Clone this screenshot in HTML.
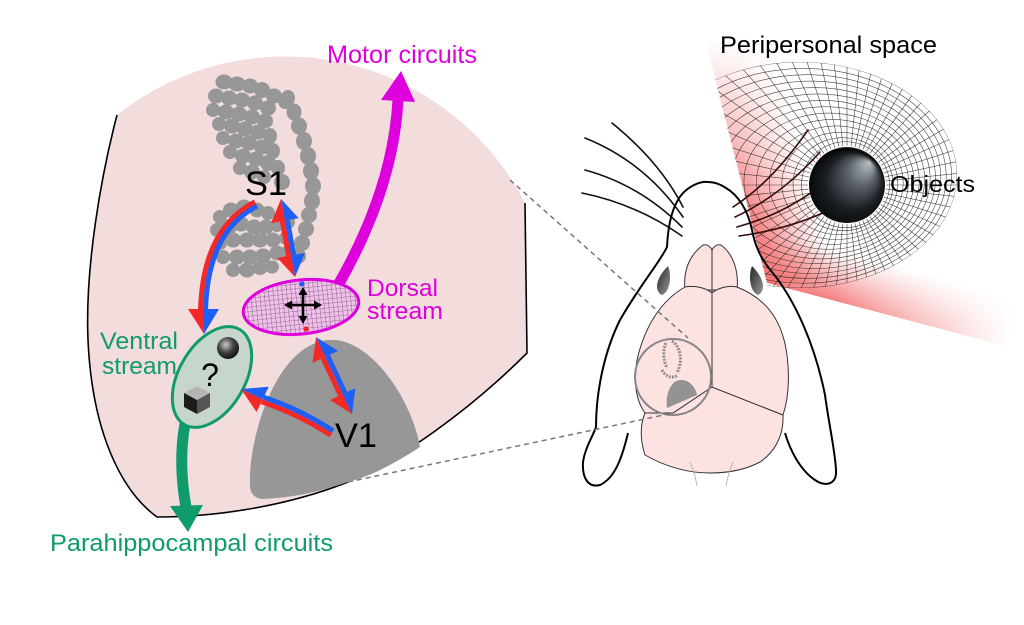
<!DOCTYPE html>
<html><head><meta charset="utf-8"><style>
html,body{margin:0;padding:0;background:#fff;}
svg{display:block;}
text{font-family:"Liberation Sans",Arial,sans-serif;}
</style></head><body>
<svg width="1024" height="625" viewBox="0 0 1024 625" xmlns="http://www.w3.org/2000/svg">
<defs>
  <pattern id="dgrid" width="4.5" height="4.5" patternUnits="userSpaceOnUse">
    <rect width="4.5" height="4.5" fill="#f0c0ea"/>
    <path d="M0,0H4.5M0,0V4.5" stroke="#4a2a48" stroke-width="0.6"/>
  </pattern>
  <linearGradient id="lband" gradientUnits="userSpaceOnUse" x1="736" y1="160" x2="800" y2="144">
    <stop offset="0" stop-color="#f27070" stop-opacity="0.9"/>
    <stop offset="1" stop-color="#f27070" stop-opacity="0"/>
  </linearGradient>
  <linearGradient id="bband" gradientUnits="userSpaceOnUse" x1="880" y1="313" x2="893" y2="265">
    <stop offset="0" stop-color="#f27070" stop-opacity="0.9"/>
    <stop offset="1" stop-color="#f27070" stop-opacity="0"/>
  </linearGradient>
  <radialGradient id="fadeR" gradientUnits="userSpaceOnUse" cx="767" cy="283" r="250">
    <stop offset="0" stop-color="#fff"/>
    <stop offset="0.25" stop-color="#fff"/>
    <stop offset="1" stop-color="#000"/>
  </radialGradient>
  <mask id="wmask"><rect x="600" y="-30" width="500" height="420" fill="url(#fadeR)"/></mask>
  <clipPath id="wedge"><polygon points="767,283 690,-20 1024,-20 1024,351"/></clipPath>
  <clipPath id="half"><polygon points="695,0 776,320 1024,320 1024,0"/></clipPath>
  <clipPath id="outer"><ellipse cx="800" cy="175" rx="157" ry="113"/></clipPath>
  <radialGradient id="sph" cx="0.45" cy="0.62" r="0.62" fx="0.8" fy="0.2">
    <stop offset="0" stop-color="#b9c2c6"/>
    <stop offset="0.3" stop-color="#5a6267"/>
    <stop offset="0.6" stop-color="#1b1f23"/>
    <stop offset="0.88" stop-color="#030303"/>
    <stop offset="1" stop-color="#2a2e31"/>
  </radialGradient>
  <radialGradient id="ball" cx="0.4" cy="0.35" r="0.7">
    <stop offset="0" stop-color="#c8c8c8"/>
    <stop offset="0.5" stop-color="#444"/>
    <stop offset="1" stop-color="#0a0a0a"/>
  </radialGradient>
  <linearGradient id="eye" x1="0" y1="0" x2="1" y2="1">
    <stop offset="0" stop-color="#222"/>
    <stop offset="1" stop-color="#9a9a9a"/>
  </linearGradient>
  <line id="ray" x1="886" y1="185" x2="1030" y2="185"/>
</defs>

<rect width="1024" height="625" fill="#fff"/>

<!-- red wedge -->
<g clip-path="url(#wedge)" mask="url(#wmask)">
  <polygon points="767,283 690,-20 810,-20 840,280" fill="url(#lband)"/>
  <polygon points="767,283 1024,351 1024,225 760,235" fill="url(#bband)"/>
</g>

<!-- grid -->
<g clip-path="url(#half)">
<g clip-path="url(#outer)" fill="none" stroke="#1a1a1a" stroke-width="0.6" stroke-opacity="0.8">
  <ellipse cx="800" cy="175" rx="157" ry="113"/>
  <ellipse cx="803.6" cy="175.8" rx="148" ry="107.4"/>
  <ellipse cx="807.2" cy="176.5" rx="139" ry="101.8"/>
  <ellipse cx="810.8" cy="177.3" rx="130" ry="96.2"/>
  <ellipse cx="814.5" cy="178.1" rx="121" ry="90.5"/>
  <ellipse cx="818.1" cy="178.8" rx="112" ry="84.9"/>
  <ellipse cx="821.7" cy="179.6" rx="103" ry="79.3"/>
  <ellipse cx="825.3" cy="180.4" rx="94" ry="73.7"/>
  <ellipse cx="828.9" cy="181.2" rx="85" ry="68.1"/>
  <ellipse cx="832.5" cy="181.9" rx="76" ry="62.5"/>
  <ellipse cx="836.2" cy="182.7" rx="67" ry="56.8"/>
  <ellipse cx="839.8" cy="183.5" rx="58" ry="51.2"/>
  <ellipse cx="843" cy="184.2" rx="50" ry="46.5"/>
  <ellipse cx="845.5" cy="184.7" rx="44" ry="43"/>
  <g>
    <use href="#ray" transform="rotate(0 847 185)"/><use href="#ray" transform="rotate(6 847 185)"/>
    <use href="#ray" transform="rotate(12 847 185)"/><use href="#ray" transform="rotate(18 847 185)"/>
    <use href="#ray" transform="rotate(24 847 185)"/><use href="#ray" transform="rotate(30 847 185)"/>
    <use href="#ray" transform="rotate(36 847 185)"/><use href="#ray" transform="rotate(42 847 185)"/>
    <use href="#ray" transform="rotate(48 847 185)"/><use href="#ray" transform="rotate(54 847 185)"/>
    <use href="#ray" transform="rotate(60 847 185)"/><use href="#ray" transform="rotate(66 847 185)"/>
    <use href="#ray" transform="rotate(72 847 185)"/><use href="#ray" transform="rotate(78 847 185)"/>
    <use href="#ray" transform="rotate(84 847 185)"/><use href="#ray" transform="rotate(90 847 185)"/>
    <use href="#ray" transform="rotate(96 847 185)"/><use href="#ray" transform="rotate(102 847 185)"/>
    <use href="#ray" transform="rotate(108 847 185)"/><use href="#ray" transform="rotate(114 847 185)"/>
    <use href="#ray" transform="rotate(120 847 185)"/><use href="#ray" transform="rotate(126 847 185)"/>
    <use href="#ray" transform="rotate(132 847 185)"/><use href="#ray" transform="rotate(138 847 185)"/>
    <use href="#ray" transform="rotate(144 847 185)"/><use href="#ray" transform="rotate(150 847 185)"/>
    <use href="#ray" transform="rotate(156 847 185)"/><use href="#ray" transform="rotate(162 847 185)"/>
    <use href="#ray" transform="rotate(168 847 185)"/><use href="#ray" transform="rotate(174 847 185)"/>
    <use href="#ray" transform="rotate(180 847 185)"/><use href="#ray" transform="rotate(186 847 185)"/>
    <use href="#ray" transform="rotate(192 847 185)"/><use href="#ray" transform="rotate(198 847 185)"/>
    <use href="#ray" transform="rotate(204 847 185)"/><use href="#ray" transform="rotate(210 847 185)"/>
    <use href="#ray" transform="rotate(216 847 185)"/><use href="#ray" transform="rotate(222 847 185)"/>
    <use href="#ray" transform="rotate(228 847 185)"/><use href="#ray" transform="rotate(234 847 185)"/>
    <use href="#ray" transform="rotate(240 847 185)"/><use href="#ray" transform="rotate(246 847 185)"/>
    <use href="#ray" transform="rotate(252 847 185)"/><use href="#ray" transform="rotate(258 847 185)"/>
    <use href="#ray" transform="rotate(264 847 185)"/><use href="#ray" transform="rotate(270 847 185)"/>
    <use href="#ray" transform="rotate(276 847 185)"/><use href="#ray" transform="rotate(282 847 185)"/>
    <use href="#ray" transform="rotate(288 847 185)"/><use href="#ray" transform="rotate(294 847 185)"/>
    <use href="#ray" transform="rotate(300 847 185)"/><use href="#ray" transform="rotate(306 847 185)"/>
    <use href="#ray" transform="rotate(312 847 185)"/><use href="#ray" transform="rotate(318 847 185)"/>
    <use href="#ray" transform="rotate(324 847 185)"/><use href="#ray" transform="rotate(330 847 185)"/>
    <use href="#ray" transform="rotate(336 847 185)"/><use href="#ray" transform="rotate(342 847 185)"/>
    <use href="#ray" transform="rotate(348 847 185)"/><use href="#ray" transform="rotate(354 847 185)"/>
  </g>
</g>
</g>

<!-- whiskers -->
<g fill="none" stroke="#111" stroke-width="1.6" stroke-linecap="round">
  <path d="M683,207 Q660,162 612,123"/>
  <path d="M683,217 Q645,162 585,138"/>
  <path d="M682,227 Q640,185 585,170"/>
  <path d="M682,236 Q636,204 582,193"/>
  <path d="M733,207 Q772,182 808,130" stroke="#3a0c0c"/>
  <path d="M735,217 Q782,195 820,152" stroke="#3a0c0c"/>
  <path d="M737,227 Q792,212 832,176" stroke="#3a0c0c"/>
  <path d="M739,236 Q798,228 845,202" stroke="#3a0c0c"/>
</g>

<!-- sphere -->
<circle cx="847" cy="185" r="38" fill="url(#sph)"/>

<!-- mouse outline -->
<path d="M628,433 C622,458 615,478 600,485 C588,488 582,478 583,462 C585,448 592,438 596,427 C596,390 605,350 620,320 C640,285 660,262 667,247 C668,225 672,205 683,193 C690,186 700,181 708,182 C714,182 720,184 726,188 C738,195 748,210 752,230 C755,245 760,258 772,272 C795,300 815,345 825,395 C829,425 835,450 836,470 C837,485 825,487 815,480 C800,470 790,450 785,433" fill="none" stroke="#000" stroke-width="2"/>
<path d="M668,266 C672,276 670,292 662,295 C655,292 654,280 668,266 Z" fill="url(#eye)"/>
<path d="M752,266 C748,276 750,292 758,295 C765,292 766,280 752,266 Z" fill="url(#eye)"/>

<!-- brain -->
<g stroke="#333" stroke-width="1" fill="#fde2e2">
  <path d="M685,290 C683,270 690,255 703,245 C707,244 710,246 712,250 C714,246 717,244 721,245 C733,254 739,270 737,290 Z"/>
  <path d="M645,455 C640,440 640,425 645,413 L673,413 L712,387 L783,415 C784,435 775,452 760,462 C745,470 728,473 710,473 C690,473 668,468 645,455 Z"/>
  <path d="M685,287 C662,300 645,325 637,360 C633,385 637,402 645,413 L673,413 L712,387 L783,415 C788,400 790,380 787,355 C783,325 770,300 737,287 C728,285 718,288 712,293 C706,288 695,285 685,287 Z"/>
  <path d="M712,250 L712,387" fill="none"/>
</g>
<g fill="none" stroke="#aaa" stroke-width="0.8">
  <path d="M690,462 Q695,474 697,486"/>
  <path d="M733,462 Q728,474 726,486"/>
</g>
<path d="M667,408 C665,392 672,380 681,380 C690,380 696,388 697,395 Z" fill="#939393"/>
<g fill="none" stroke="#8f8f8f" stroke-width="3" stroke-dasharray="2 1.2">
  <path d="M666,343 C662,352 664,362 667,368"/>
  <path d="M672,341 C681,347 683,361 677,373"/>
  <path d="M662,370 C666,377 672,379 678,375"/>
</g>
<circle cx="673" cy="377" r="38" fill="none" stroke="#858585" stroke-width="2"/>

<!-- cortex -->
<path d="M117,115 A270,270 0 0 1 525,203 L527,353 C470,410 400,460 348,482 C290,505 220,517 157,517 C120,490 92,430 88,340 C85,270 100,180 117,115 Z" fill="#f2dcdc"/>
<path d="M525,203 L527,353 C470,410 400,460 348,482 C290,505 220,517 157,517 C120,490 92,430 88,340 C85,270 100,180 117,115" fill="none" stroke="#000" stroke-width="1.6"/>

<g stroke="#777" stroke-width="1.5" stroke-dasharray="5 4" fill="none">
  <path d="M510,180 L688,338"/>
  <path d="M348,482 L673,413"/>
</g>

<!-- V1 -->
<path d="M250,485 C248,440 275,345 328,340 C370,336 412,400 420,447 C400,460 375,475 348,482 C320,492 290,498 262,499 C254,498 250,493 250,485 Z" fill="#979797"/>

<!-- S1 barrels -->
<g fill="#979797" stroke="#979797" stroke-width="2">
  <ellipse cx="224" cy="82" rx="7.5" ry="6.5"/><ellipse cx="237" cy="84" rx="7.5" ry="6.5"/><ellipse cx="250" cy="86" rx="7" ry="6.5"/><ellipse cx="262" cy="90" rx="7" ry="7"/><ellipse cx="274" cy="96" rx="7" ry="6.5"/><ellipse cx="285" cy="101" rx="6" ry="7"/>
  <ellipse cx="216" cy="96" rx="7" ry="6.5"/><ellipse cx="229" cy="98" rx="7" ry="6.5"/><ellipse cx="242" cy="100" rx="7" ry="6.5"/><ellipse cx="255" cy="103" rx="7" ry="6.5"/><ellipse cx="268" cy="108" rx="7" ry="6.5"/>
  <ellipse cx="213" cy="110" rx="6" ry="6"/><ellipse cx="226" cy="112" rx="7" ry="6.5"/><ellipse cx="239" cy="114" rx="7" ry="6.5"/><ellipse cx="252" cy="117" rx="7" ry="6.5"/><ellipse cx="265" cy="121" rx="7" ry="6.5"/>
  <ellipse cx="219" cy="124" rx="6" ry="6"/><ellipse cx="232" cy="126" rx="7" ry="6.5"/><ellipse cx="245" cy="129" rx="7" ry="6.5"/><ellipse cx="258" cy="132" rx="7" ry="6.5"/><ellipse cx="270" cy="136" rx="6" ry="7"/>
  <ellipse cx="223" cy="138" rx="6" ry="6"/><ellipse cx="236" cy="141" rx="7" ry="6.5"/><ellipse cx="249" cy="143" rx="7" ry="6.5"/><ellipse cx="262" cy="147" rx="7" ry="6.5"/><ellipse cx="273" cy="151" rx="6" ry="7"/>
  <ellipse cx="230" cy="152" rx="6" ry="6"/><ellipse cx="243" cy="156" rx="7" ry="6.5"/><ellipse cx="256" cy="159" rx="7" ry="6.5"/><ellipse cx="268" cy="163" rx="7" ry="7"/>
  <ellipse cx="240" cy="168" rx="6" ry="6"/><ellipse cx="252" cy="172" rx="7" ry="6.5"/><ellipse cx="264" cy="177" rx="6" ry="6"/><ellipse cx="278" cy="168" rx="6" ry="7"/><ellipse cx="282" cy="182" rx="7" ry="7"/>
  <ellipse cx="288" cy="98" rx="6" ry="7"/><ellipse cx="294" cy="112" rx="6.5" ry="7.5"/><ellipse cx="299" cy="126" rx="7" ry="7.5"/><ellipse cx="304" cy="141" rx="7" ry="8"/><ellipse cx="308" cy="156" rx="7" ry="8"/><ellipse cx="311" cy="171" rx="7" ry="8"/><ellipse cx="313" cy="186" rx="7" ry="8"/><ellipse cx="312" cy="201" rx="7" ry="8"/><ellipse cx="309" cy="215" rx="7" ry="7"/><ellipse cx="306" cy="229" rx="7" ry="7"/><ellipse cx="302" cy="243" rx="7" ry="7"/><ellipse cx="298" cy="256" rx="7" ry="7"/>
  <ellipse cx="220" cy="217" rx="6" ry="6"/><ellipse cx="231" cy="210" rx="7" ry="6.5"/><ellipse cx="244" cy="207" rx="7" ry="6.5"/><ellipse cx="257" cy="210" rx="6.5" ry="6.5"/><ellipse cx="268" cy="213" rx="6" ry="6"/>
  <ellipse cx="217" cy="230" rx="6" ry="6"/><ellipse cx="229" cy="227" rx="7" ry="6.5"/><ellipse cx="241" cy="224" rx="7" ry="6.5"/><ellipse cx="254" cy="227" rx="7" ry="6.5"/><ellipse cx="266" cy="227" rx="6.5" ry="6.5"/><ellipse cx="277" cy="225" rx="6" ry="6"/><ellipse cx="288" cy="222" rx="6" ry="6"/>
  <ellipse cx="220" cy="243" rx="6" ry="6"/><ellipse cx="233" cy="240" rx="7" ry="6.5"/><ellipse cx="247" cy="240" rx="7" ry="6.5"/><ellipse cx="260" cy="240" rx="7" ry="6.5"/><ellipse cx="273" cy="240" rx="6.5" ry="6.5"/><ellipse cx="286" cy="238" rx="6" ry="6"/>
  <ellipse cx="223" cy="257" rx="6" ry="6"/><ellipse cx="237" cy="257" rx="7" ry="6.5"/><ellipse cx="250" cy="257" rx="7" ry="6.5"/><ellipse cx="263" cy="256" rx="7" ry="6.5"/><ellipse cx="277" cy="253" rx="6.5" ry="6.5"/><ellipse cx="288" cy="252" rx="6" ry="6"/>
  <ellipse cx="233" cy="270" rx="6" ry="6"/><ellipse cx="247" cy="270" rx="7" ry="6.5"/><ellipse cx="260" cy="268" rx="6.5" ry="6"/><ellipse cx="272" cy="267" rx="6" ry="5.5"/>
</g>

<!-- magenta arrow -->
<path d="M337,287 Q393,190 398,100" fill="none" stroke="#dd00dd" stroke-width="11"/>
<polygon points="381,100 401,71 415,102" fill="#dd00dd"/>

<!-- green arrow -->
<path d="M185,424 C180,450 181,480 186,507" fill="none" stroke="#0f9b6c" stroke-width="11"/>
<polygon points="170,506 203,505 188,532" fill="#0f9b6c"/>

<!-- ventral ellipse -->
<ellipse cx="212" cy="377" rx="33" ry="55" transform="rotate(30 212 377)" fill="#c7d6cb" stroke="#0f9b6c" stroke-width="3"/>
<circle cx="228" cy="348" r="11" fill="url(#ball)"/>
<polygon points="197,386 210,393 197,400 184,393" fill="#b5b5b5"/>
<polygon points="184,393 197,400 197,414 184,407" fill="#1c1c1c"/>
<polygon points="197,400 210,393 210,407 197,414" fill="#555"/>
<text x="210" y="386" font-size="32" text-anchor="middle" fill="#000">?</text>

<!-- dorsal ellipse -->
<ellipse cx="301" cy="307" rx="58" ry="27" transform="rotate(-6 301 307)" fill="url(#dgrid)" stroke="#dd00dd" stroke-width="3"/>
<g stroke="#000" stroke-width="2.6" fill="none">
  <path d="M289,305 H317"/>
  <path d="M303,292 V319"/>
</g>
<g fill="#000">
  <polygon points="284,305 292,300.5 292,309.5"/>
  <polygon points="322,305 314,300.5 314,309.5"/>
  <polygon points="303,287 298.5,295 307.5,295"/>
  <polygon points="303,324 298.5,316 307.5,316"/>
</g>
<circle cx="302" cy="284" r="2.6" fill="#2060f0"/>
<circle cx="306" cy="329" r="2.6" fill="#ff2020"/>

<!-- red/blue arrows -->
<g fill="none" stroke-width="5">
  <path d="M254.9,201.8 Q202.5,229 200.5,311" stroke="#f52828"/>
  <path d="M257.1,206.2 Q207.5,231 205.5,311" stroke="#1f5ff5"/>
  <path d="M282.4,221 L288.6,255.8" stroke="#f52828"/>
  <path d="M287.4,220.2 L293.6,255" stroke="#1f5ff5"/>
  <path d="M323,358 L340.4,395.2" stroke="#f52828"/>
  <path d="M327.6,355.8 L345,393" stroke="#1f5ff5"/>
  <path d="M330.9,435.3 Q298.4,414 261.5,401.7" stroke="#f52828"/>
  <path d="M333.1,430.8 Q300.6,409.5 263.7,397.2" stroke="#1f5ff5"/>
</g>
<g>
  <polygon points="188,309 203.5,309 204,334" fill="#f52828"/>
  <polygon points="203,309 219,309 204,334" fill="#1f5ff5"/>
  <polygon points="281,199 284.9,220.6 271.1,223.1" fill="#f52828"/>
  <polygon points="281,199 284.9,220.6 298.7,218.1" fill="#1f5ff5"/>
  <polygon points="295,277 291.1,255.4 277.3,257.9" fill="#f52828"/>
  <polygon points="295,277 291.1,255.4 304.9,252.9" fill="#1f5ff5"/>
  <polygon points="316,337 325.3,356.9 312.6,362.8" fill="#f52828"/>
  <polygon points="316,337 325.3,356.9 338,351" fill="#1f5ff5"/>
  <polygon points="352,414 342.7,394.1 330,400" fill="#f52828"/>
  <polygon points="352,414 342.7,394.1 355.4,388.2" fill="#1f5ff5"/>
  <polygon points="241,389 262.6,399.4 256.5,412" fill="#f52828"/>
  <polygon points="241,389 262.6,399.4 268.7,386.8" fill="#1f5ff5"/>
</g>

<!-- labels -->
<text x="245" y="195" font-size="34" textLength="42" lengthAdjust="spacingAndGlyphs" fill="#000">S1</text>
<text x="335" y="447" font-size="34" textLength="42" lengthAdjust="spacingAndGlyphs" fill="#000">V1</text>
<text x="327" y="63" font-size="25" textLength="150" lengthAdjust="spacingAndGlyphs" fill="#dd00dd">Motor circuits</text>
<text x="367" y="296" font-size="24.5" textLength="71" lengthAdjust="spacingAndGlyphs" fill="#dd00dd">Dorsal</text>
<text x="367" y="319" font-size="24.5" textLength="76" lengthAdjust="spacingAndGlyphs" fill="#dd00dd">stream</text>
<text x="100" y="349" font-size="24.5" textLength="78" lengthAdjust="spacingAndGlyphs" fill="#0f9b6c">Ventral</text>
<text x="102" y="374" font-size="24.5" textLength="75" lengthAdjust="spacingAndGlyphs" fill="#0f9b6c">stream</text>
<text x="50" y="551" font-size="24.5" textLength="283" lengthAdjust="spacingAndGlyphs" fill="#0f9b6c">Parahippocampal circuits</text>
<text x="720" y="53" font-size="24" textLength="217" lengthAdjust="spacingAndGlyphs" fill="#000">Peripersonal space</text>
<text x="890" y="192" font-size="23" textLength="85" lengthAdjust="spacingAndGlyphs" fill="#000">Objects</text>
</svg>
</body></html>
